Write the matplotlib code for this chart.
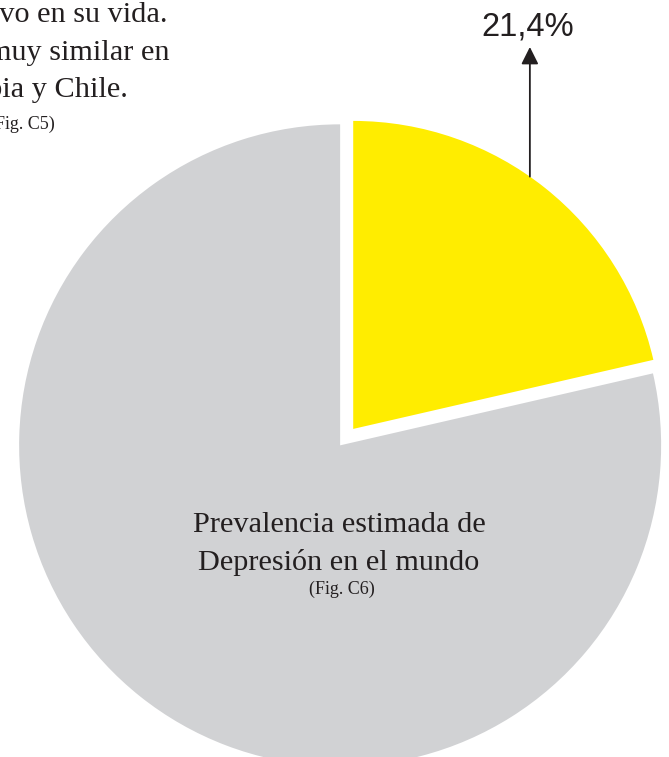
import numpy as np
import matplotlib.pyplot as plt

# prevalencia estimada de depresión (%)
categorias = ["Depresión", "Resto"]
porcentaje = [21.4, 78.6]
colores = ["#FFED00", "#D1D2D4"]

texto_previo = ["depresivo en su vida.", "muy similar en", "Colombia y Chile."]
titulo = ["Prevalencia estimada de", "Depresión en el mundo"]

W, H = 669, 757
fig = plt.figure(figsize=(W / 100, H / 100), dpi=100)
ax = fig.add_axes([0, 0, 1, 1])

wedges, _ = ax.pie(porcentaje, radius=321, center=(342, 314), startangle=90,
                   counterclock=False, explode=[18, 3], colors=colores,
                   wedgeprops=dict(linewidth=0))
wedges[0].set_radius(308)

ax.set_xlim(0, W)
ax.set_ylim(0, H)
ax.set_aspect("equal")
ax.axis("off")

oscuro = "#231F20"
serif = "Liberation Serif"

# flecha desde el borde de la porción amarilla hacia la etiqueta
cx, cy = wedges[0].center
ang = np.deg2rad(55)
base = (cx + wedges[0].r * np.cos(ang), cy + wedges[0].r * np.sin(ang))
ax.annotate("", xy=(base[0], H - 47), xytext=base,
            arrowprops=dict(arrowstyle="-|>", color=oscuro, lw=1.3,
                            mutation_scale=26, shrinkA=0, shrinkB=0))
etiqueta = f"{porcentaje[0]:.1f}".replace(".", ",") + "%"
ax.text(base[0] - 2, H - 27, etiqueta, fontsize=23.5, family="Liberation Sans",
        color=oscuro, ha="center", va="center")

# texto dentro de la porción gris
ax.text(339, H - 525, titulo[0], fontsize=21.8, family=serif, color=oscuro,
        ha="center", va="center")
ax.text(339, H - 563, titulo[1], fontsize=21.8, family=serif, color=oscuro,
        ha="center", va="center")
ax.text(342, H - 589, "(Fig. C6)", fontsize=13, family=serif, color=oscuro,
        ha="center", va="center")

# párrafo cortado en la esquina superior izquierda
derechas = [167, 170, 128]
alturas = [15, 53, 90]
for t, xr, yy in zip(texto_previo, derechas, alturas):
    ax.text(xr, H - yy, t, fontsize=21.8, family=serif, color=oscuro,
            ha="right", va="center")
ax.text(55, H - 124, "(Fig. C5)", fontsize=13, family=serif, color=oscuro,
        ha="right", va="center")

fig.savefig("out.png", dpi=100)
